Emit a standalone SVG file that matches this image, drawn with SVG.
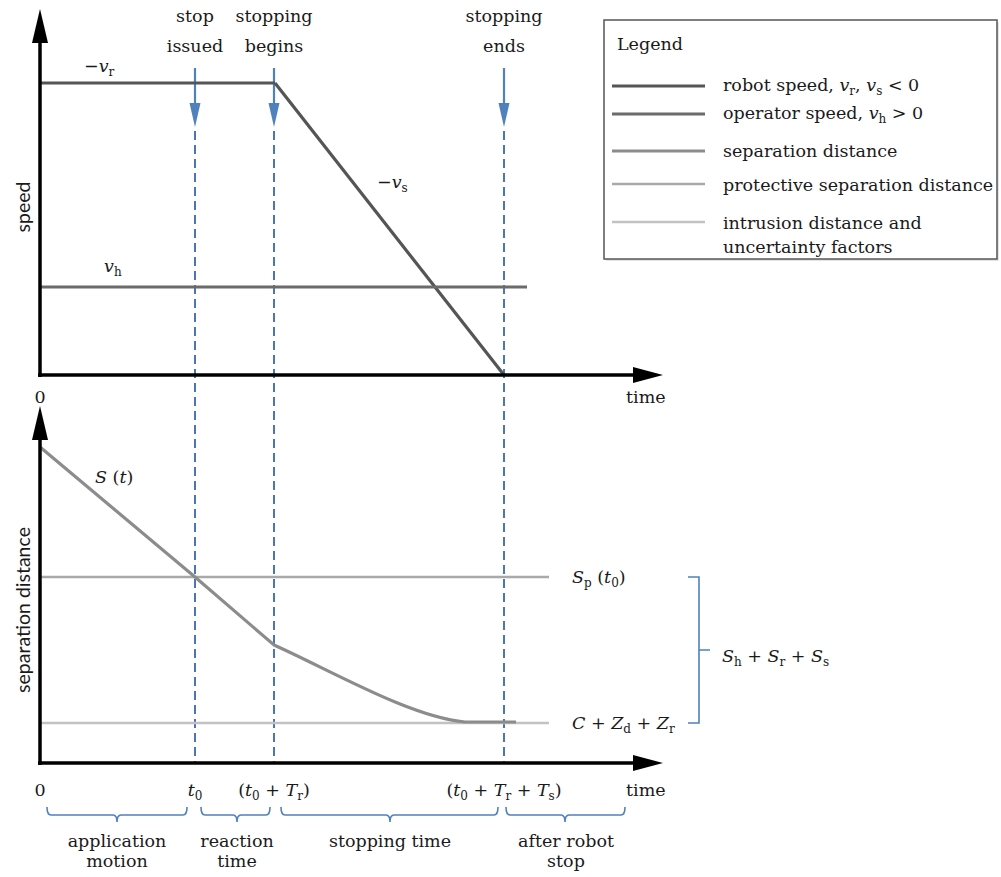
<svg xmlns="http://www.w3.org/2000/svg" width="1001" height="877" viewBox="0 0 1001 877">
<style>
text{font-family:"DejaVu Serif","Liberation Serif",serif;font-size:17.5px;fill:#1a1a1a}
.sans{font-family:Lato,"Liberation Sans",sans-serif;font-size:19.5px}
.m{text-anchor:middle}
.i{font-style:italic}
.sub{font-size:12px}
.axis{stroke:#000;stroke-width:3.5;fill:none}
.ah{fill:#000}
.dash{stroke:#4a76b5;stroke-width:2;stroke-dasharray:9 5;fill:none}
.barrow{stroke:#4f81bd;stroke-width:2.2;fill:none}
.bhead{fill:#4f81bd}
.brace{stroke:#4f81bd;stroke-width:1.6;fill:none}
.robot{stroke:#555;stroke-width:3.2;fill:none}
.oper{stroke:#6b6b6b;stroke-width:3.2;fill:none}
.sep{stroke:#8c8c8c;stroke-width:3.2;fill:none}
.prot{stroke:#a9a9a9;stroke-width:2.4;fill:none}
.intr{stroke:#c2c2c2;stroke-width:2.4;fill:none}
</style>
<rect width="1001" height="877" fill="#fff"/>

<g id="legend">
<rect x="606" y="22" width="393" height="239" fill="#e4e4e4"/>
<rect x="604" y="20" width="393" height="239" fill="#fff" stroke="#555" stroke-width="1.5"/>
<text x="617" y="50">Legend</text>
<line class="robot" x1="612" y1="86" x2="705" y2="86"/>
<line class="oper" x1="612" y1="114" x2="705" y2="114"/>
<line class="sep" x1="612" y1="151" x2="705" y2="151"/>
<line class="prot" x1="612" y1="184" x2="705" y2="184"/>
<line class="intr" x1="612" y1="222" x2="705" y2="222"/>
<text x="723" y="91">robot speed, <tspan class="i">v</tspan><tspan class="sub" dy="4">r</tspan><tspan dy="-4">, </tspan><tspan class="i">v</tspan><tspan class="sub" dy="4">s</tspan><tspan dy="-4"> &lt; 0</tspan></text>
<text x="723" y="119">operator speed, <tspan class="i">v</tspan><tspan class="sub" dy="4">h</tspan><tspan dy="-4"> &gt; 0</tspan></text>
<text x="723" y="157">separation distance</text>
<text x="723" y="191">protective separation distance</text>
<text x="723" y="229">intrusion distance and</text>
<text x="723" y="253">uncertainty factors</text>
</g>

<g id="event-labels">
<text class="m" x="195" y="22">stop</text>
<text class="m" x="195" y="52">issued</text>
<text class="m" x="274" y="22">stopping</text>
<text class="m" x="274" y="52">begins</text>
<text class="m" x="504" y="22">stopping</text>
<text class="m" x="504" y="52">ends</text>
</g>

<g id="connectors">
<line class="barrow" x1="195" y1="68" x2="195" y2="106"/>
<polygon class="bhead" points="189.5,103 200.5,103 195,127"/>
<line class="barrow" x1="274" y1="68" x2="274" y2="106"/>
<polygon class="bhead" points="268.5,103 279.5,103 274,127"/>
<line class="barrow" x1="504" y1="68" x2="504" y2="106"/>
<polygon class="bhead" points="498.5,103 509.5,103 504,127"/>
<line class="dash" x1="195" y1="131" x2="195" y2="763"/>
<line class="dash" x1="274" y1="131" x2="274" y2="763"/>
<line class="dash" x1="504" y1="131" x2="504" y2="763"/>
</g>

<g id="speed-chart">
<line class="robot" x1="40" y1="83" x2="275" y2="83"/>
<line class="robot" x1="275" y1="83" x2="504" y2="375"/>
<line class="oper" x1="40" y1="287" x2="527" y2="287"/>
<line class="axis" x1="40" y1="38" x2="40" y2="377"/>
<polygon class="ah" points="40,9 32,43 48,43"/>
<line class="axis" x1="38" y1="375" x2="638" y2="375"/>
<polygon class="ah" points="663,375 633,367 633,383"/>
<text x="84" y="72">−<tspan class="i">v</tspan><tspan class="sub" dy="4">r</tspan></text>
<text x="377" y="188">−<tspan class="i">v</tspan><tspan class="sub" dy="4">s</tspan></text>
<text x="104" y="272"><tspan class="i">v</tspan><tspan class="sub" dy="4">h</tspan></text>
<text class="sans m" transform="translate(30,207) rotate(-90)">speed</text>
<text class="m" x="40" y="403">0</text>
<text x="626" y="403">time</text>
</g>

<g id="distance-chart">
<line class="prot" x1="40" y1="577" x2="549" y2="577"/>
<line class="intr" x1="40" y1="723" x2="549" y2="723"/>
<path class="sep" d="M40,447 L195,577 L274,645 C330,670 410,717 465,722 L516,722"/>
<line class="axis" x1="40" y1="436" x2="40" y2="765"/>
<polygon class="ah" points="40,406 32,440 48,440"/>
<line class="axis" x1="38" y1="763" x2="638" y2="763"/>
<polygon class="ah" points="663,763 633,755 633,771"/>
<text x="95" y="483"><tspan class="i">S</tspan> (<tspan class="i">t</tspan>)</text>
<text class="sans m" transform="translate(30,610) rotate(-90)">separation distance</text>
<text x="572" y="583"><tspan class="i">S</tspan><tspan class="sub" dy="4">p</tspan><tspan dy="-4"> (</tspan><tspan class="i">t</tspan><tspan class="sub" dy="4">0</tspan><tspan dy="-4">)</tspan></text>
<text x="572" y="729"><tspan class="i">C</tspan> + <tspan class="i">Z</tspan><tspan class="sub" dy="4">d</tspan><tspan dy="-4"> + </tspan><tspan class="i">Z</tspan><tspan class="sub" dy="4">r</tspan></text>
<path class="brace" d="M688,577 H699 V723 H688 M699,650 H710"/>
<text x="722" y="662"><tspan class="i">S</tspan><tspan class="sub" dy="4">h</tspan><tspan dy="-4"> + </tspan><tspan class="i">S</tspan><tspan class="sub" dy="4">r</tspan><tspan dy="-4"> + </tspan><tspan class="i">S</tspan><tspan class="sub" dy="4">s</tspan></text>
</g>

<g id="time-labels">
<text class="m" x="40" y="796">0</text>
<text class="m" x="195" y="796"><tspan class="i">t</tspan><tspan class="sub" dy="4">0</tspan></text>
<text class="m" x="274" y="796">(<tspan class="i">t</tspan><tspan class="sub" dy="4">0</tspan><tspan dy="-4"> + </tspan><tspan class="i">T</tspan><tspan class="sub" dy="4">r</tspan><tspan dy="-4">)</tspan></text>
<text class="m" x="504" y="796">(<tspan class="i">t</tspan><tspan class="sub" dy="4">0</tspan><tspan dy="-4"> + </tspan><tspan class="i">T</tspan><tspan class="sub" dy="4">r</tspan><tspan dy="-4"> + </tspan><tspan class="i">T</tspan><tspan class="sub" dy="4">s</tspan><tspan dy="-4">)</tspan></text>
<text x="626" y="796">time</text>
</g>

<g id="phase-application">
<path class="brace" d="M47,807 Q47,815 51,815 H113 Q117,815 117,822 Q117,815 121,815 H183 Q187,815 187,807"/>
<text class="m" x="117" y="847">application</text>
<text class="m" x="117" y="867">motion</text>
</g>
<g id="phase-reaction">
<path class="brace" d="M201,807 Q201,815 205,815 H233 Q237,815 237,822 Q237,815 241,815 H266 Q270,815 270,807"/>
<text class="m" x="237" y="847">reaction</text>
<text class="m" x="237" y="867">time</text>
</g>
<g id="phase-stopping">
<path class="brace" d="M281,807 Q281,815 285,815 H386 Q390,815 390,822 Q390,815 394,815 H494 Q498,815 498,807"/>
<text class="m" x="390" y="847">stopping time</text>
</g>
<g id="phase-after">
<path class="brace" d="M506,807 Q506,815 510,815 H561 Q565,815 565,822 Q565,815 569,815 H621 Q625,815 625,807"/>
<text class="m" x="566" y="847">after robot</text>
<text class="m" x="566" y="867">stop</text>
</g>
</svg>
